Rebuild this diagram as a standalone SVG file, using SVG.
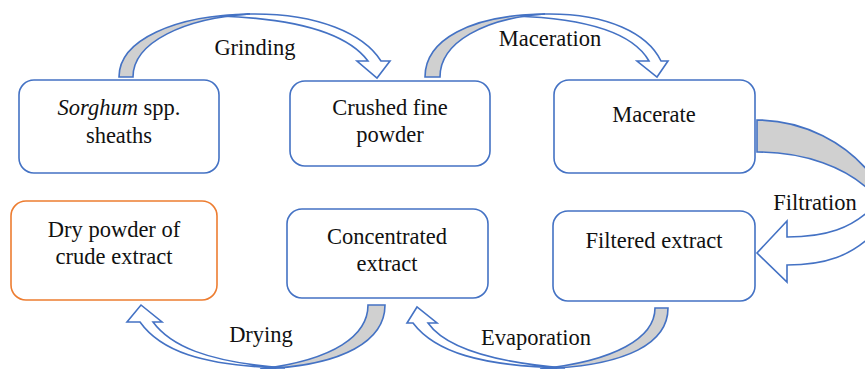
<svg xmlns="http://www.w3.org/2000/svg" width="865" height="369" viewBox="0 0 865 369">
<style>
.box{fill:#fff;stroke:#4472C4;stroke-width:1.6}
.obox{fill:#fff;stroke:#ED7D31;stroke-width:1.6}
.t{font-family:"Liberation Serif","Times New Roman",serif;font-size:22.5px;fill:#111;text-anchor:middle}
.fw{fill:#fff;stroke:#4472C4;stroke-width:1.6;stroke-linejoin:miter}
.fg{fill:#d0d0d0;stroke:#4472C4;stroke-width:1.6}
</style>
<rect width="865" height="369" fill="#fff"/>
<g id="connectors">
  <g id="grinding">
    <path class="fw" d="M250,14 C318,13 364,34 381,61 L390,61 L377,78 L357,61 L368,61 C350,37 305,19 220,16 Z"/>
    <path class="fg" d="M119,77 C119,40 175,15 250,14 C185,18 133,42 133,77 Z"/>
    <text class="t" x="255" y="55">Grinding</text>
  </g>
  <g id="maceration">
    <path class="fw" d="M545,14 C608,13 648,34 661,61 L668,61 L657,77 L637,61 L649,61 C636,38 600,19 515,16 Z"/>
    <path class="fg" d="M425,77 C425,40 470,15 545,14 C485,18 440,42 440,77 Z"/>
    <text class="t" x="550" y="46">Maceration</text>
  </g>
  <g id="filtration">
    <path class="fw" d="M787,237 C825,237 852,229 875,205 L875,232 C852,256 825,265 787,265 L787,282 L757,253 L787,221 Z"/>
    <path class="fg" d="M757,120 C802,120 848,142 875,180 L875,196 C848,166 802,152 757,152 Z"/>
    <text class="t" x="815" y="210">Filtration</text>
  </g>
  <g id="drying">
    <path class="fw" d="M140,322 C160,350 200,366 285,368 C205,362 170,345 153,322 L162,322 L141,305 L127,322 Z"/>
    <path class="fg" d="M385,305 C385,340 345,366 260,369 C335,360 368,335 368,305 Z"/>
    <text class="t" x="261" y="342">Drying</text>
  </g>
  <g id="evaporation">
    <path class="fw" d="M413,323 C435,352 480,366 565,368 C490,362 445,347 428,323 L437,323 L417,307 L407,323 Z"/>
    <path class="fg" d="M668,308 C668,342 630,366 540,369 C615,361 655,338 655,308 Z"/>
    <text class="t" x="536" y="345">Evaporation</text>
  </g>
</g>
<g id="sorghum">
  <rect class="box" x="19" y="80" width="200" height="93" rx="15"/>
  <text class="t" x="119" y="115"><tspan font-style="italic">Sorghum</tspan> spp.</text>
  <text class="t" x="119" y="143">sheaths</text>
</g>
<g id="crushed">
  <rect class="box" x="290" y="81" width="200" height="85" rx="15"/>
  <text class="t" x="390" y="115">Crushed fine</text>
  <text class="t" x="390" y="142">powder</text>
</g>
<g id="macerate">
  <rect class="box" x="554" y="80" width="201" height="93" rx="15"/>
  <text class="t" x="654" y="122">Macerate</text>
</g>
<g id="drypowder">
  <rect class="obox" x="11" y="201" width="206" height="99" rx="15"/>
  <text class="t" x="114" y="237">Dry powder of</text>
  <text class="t" x="114" y="264">crude extract</text>
</g>
<g id="concentrated">
  <rect class="box" x="287" y="209" width="201" height="89" rx="15"/>
  <text class="t" x="387" y="244">Concentrated</text>
  <text class="t" x="387" y="271">extract</text>
</g>
<g id="filtered">
  <rect class="box" x="553" y="211" width="202" height="90" rx="15"/>
  <text class="t" x="654" y="248">Filtered extract</text>
</g>
</svg>
